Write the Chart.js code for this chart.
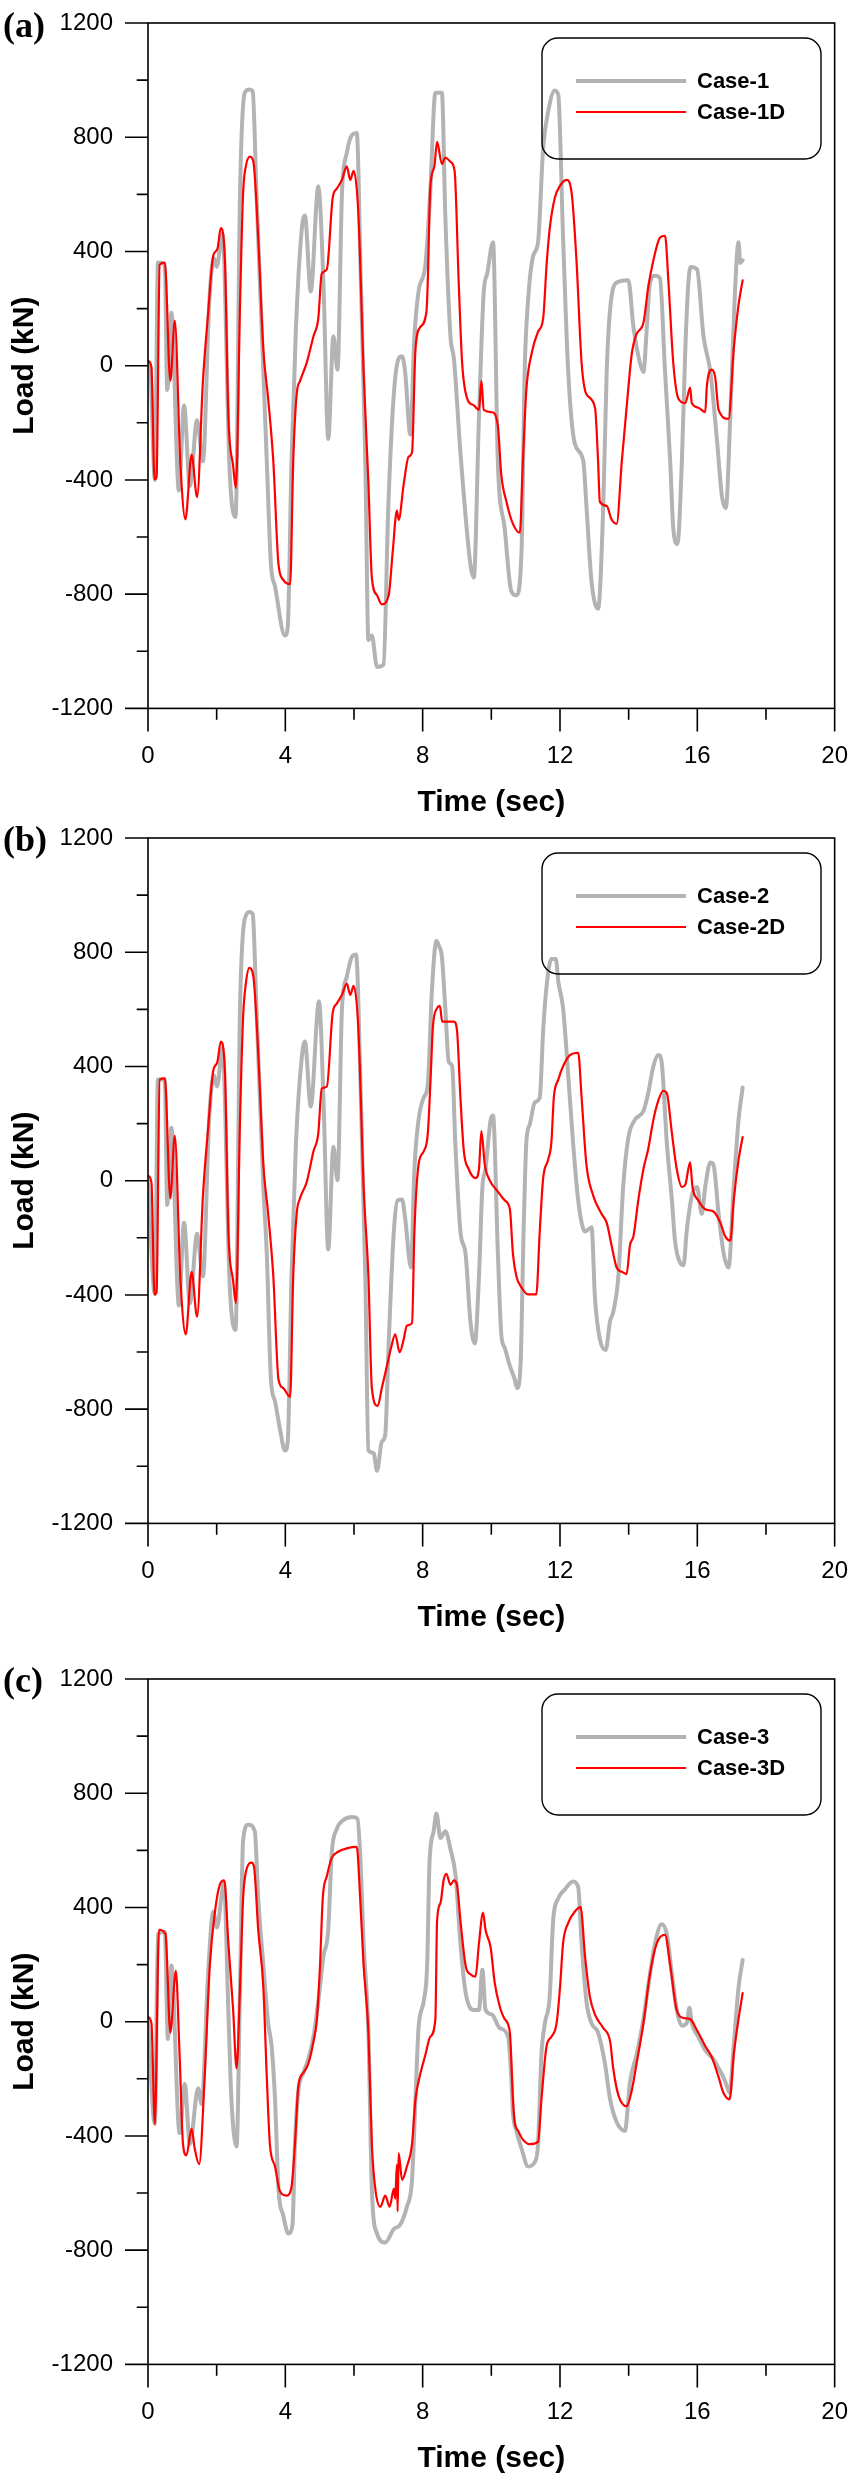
<!DOCTYPE html>
<html>
<head>
<meta charset="utf-8">
<script src="https://cdn.jsdelivr.net/npm/chart.js@4.4.1/dist/chart.umd.min.js"></script>
<style>
  body { margin: 0; background: #fff; width: 848px; height: 2482px; position: relative; overflow: hidden; }
  canvas { position: absolute; left: 0; }
  .tag { position: absolute; left: 3px; font: bold 36px "Liberation Serif", "Times New Roman", serif; line-height: 36px; color: #000; }
</style>
</head>
<body>
<canvas id="cA" width="848" height="826" style="top:0px"></canvas>
<canvas id="cB" width="848" height="826" style="top:815px"></canvas>
<canvas id="cC" width="848" height="826" style="top:1656px"></canvas>
<div class="tag" style="top:7px">(a)</div>
<div class="tag" style="top:821px">(b)</div>
<div class="tag" style="top:1662px">(c)</div>

<script>
// ---- datos (tiempo en s, carga en kN) ----
const case1T  = [0,0.05,0.2,0.29,0.49,0.56,0.68,0.9,1.05,1.22,1.43,1.6,1.78,1.92,2,2.17,2.38,2.55,2.68,2.82,2.95,3.05,3.16,3.36,3.46,3.58,3.7,3.99,4.07,4.18,4.31,4.48,4.57,4.74,4.96,5.11,5.25,5.4,5.52,5.65,5.79,5.94,6.08,6.2,6.33,6.42,6.52,6.67,6.86,7,7.16,7.3,7.4,7.49,7.64,7.76,7.88,8.08,8.22,8.37,8.56,8.66,8.81,8.91,9.1,9.39,9.49,9.64,9.78,9.88,10.05,10.19,10.39,10.58,10.73,10.88,10.97,11.07,11.22,11.36,11.51,11.65,11.85,11.95,12.09,12.24,12.43,12.68,12.77,12.92,13.11,13.26,13.36,13.46,13.65,13.99,14.14,14.33,14.43,14.53,14.62,14.77,14.91,15.06,15.21,15.3,15.42,15.55,15.65,15.74,15.81,15.99,16.18,16.38,16.57,16.72,16.83,16.96,17.08,17.2,17.25,17.32];
const case1V  = [0,10,-400,361,355,-85,185,-437,-139,-421,-191,-335,213,377,346,463,-374,-530,604,956,967,960,604,-22,-335,-695,-773,-945,-914,-335,135,479,526,260,628,291,-257,103,-14,604,745,808,815,291,-335,-961,-945,-1055,-1047,-491,-100,25,33,-22,-241,103,260,354,604,956,956,526,103,25,-304,-695,-742,-178,260,322,432,-335,-570,-789,-804,-648,-22,228,385,432,761,886,964,948,448,-22,-272,-335,-491,-757,-851,-491,-22,197,291,299,135,9,-22,135,291,315,307,-22,-335,-570,-624,-335,56,291,346,338,103,-22,-257,-460,-499,-178,213,432,360,369];

const case1dT = [0,0.1,0.19,0.25,0.34,0.49,0.65,0.78,0.94,1.09,1.27,1.43,1.6,1.75,1.9,2.02,2.12,2.24,2.34,2.48,2.56,2.68,2.77,2.85,2.97,3.07,3.21,3.36,3.5,3.65,3.8,3.94,4.14,4.23,4.33,4.43,4.62,4.82,4.96,5.06,5.21,5.38,5.5,5.65,5.79,5.89,5.99,6.13,6.28,6.42,6.52,6.67,6.81,7.01,7.13,7.25,7.3,7.45,7.59,7.69,7.79,7.93,8.11,8.15,8.22,8.34,8.42,8.56,8.66,8.81,8.93,9.05,9.15,9.3,9.49,9.64,9.71,9.78,10.02,10.19,10.29,10.44,10.63,10.83,10.92,11.02,11.17,11.36,11.51,11.61,11.7,11.85,11.99,12.19,12.34,12.48,12.63,12.77,13.02,13.11,13.16,13.36,13.5,13.65,13.8,13.94,14.09,14.23,14.43,14.57,14.72,14.91,15.06,15.16,15.3,15.45,15.65,15.79,15.84,16.03,16.23,16.28,16.42,16.52,16.62,16.91,17.06,17.2,17.32];
const case1dV = [17,-6,-398,-390,354,361,-53,158,-335,-538,-311,-460,-53,182,385,408,482,369,-178,-351,-429,213,604,698,732,714,448,56,-116,-335,-695,-750,-765,-335,-100,-53,9,103,166,322,338,588,620,651,698,651,682,526,-22,-413,-742,-804,-836,-804,-648,-507,-540,-413,-319,-304,56,135,189,300,620,698,784,706,729,714,682,291,9,-116,-139,-155,-53,-155,-163,-210,-382,-476,-554,-585,-335,-85,41,119,166,354,479,588,628,651,604,369,9,-100,-147,-335,-476,-491,-538,-554,-335,-147,41,111,150,275,369,448,455,291,9,-116,-131,-77,-131,-147,-163,-69,-14,-40,-155,-186,56,213,299];

const case2T  = [0,0.2,0.29,0.49,0.56,0.68,0.9,1.05,1.22,1.43,1.6,1.78,1.92,2.01,2.17,2.38,2.55,2.68,2.82,2.97,3.05,3.16,3.36,3.46,3.58,3.7,3.84,3.99,4.07,4.18,4.31,4.48,4.57,4.74,4.98,5.11,5.25,5.4,5.52,5.65,5.79,5.94,6.06,6.2,6.33,6.42,6.57,6.67,6.81,6.91,7.01,7.16,7.27,7.4,7.49,7.66,7.76,7.88,8.03,8.15,8.27,8.4,8.47,8.56,8.66,8.76,8.86,8.95,9.1,9.25,9.39,9.52,9.64,9.74,9.83,9.98,10.05,10.19,10.29,10.39,10.54,10.68,10.75,10.85,10.94,11.02,11.12,11.27,11.41,11.51,11.61,11.75,11.88,11.95,12.09,12.24,12.38,12.53,12.73,12.92,13.02,13.16,13.33,13.46,13.55,13.7,13.84,13.99,14.18,14.43,14.57,14.72,14.87,14.96,15.11,15.26,15.35,15.5,15.6,15.69,15.84,15.99,16.13,16.23,16.38,16.47,16.62,16.77,16.91,17.06,17.2,17.32];
const case2V  = [0,-398,354,354,-85,185,-437,-147,-429,-186,-335,213,369,330,463,-366,-523,604,917,941,933,604,-22,-257,-695,-773,-867,-945,-914,-335,135,432,487,260,628,291,-241,119,2,604,714,784,792,291,-335,-945,-953,-1016,-914,-890,-570,-178,-69,-66,-131,-304,41,213,291,338,667,839,823,784,604,416,401,135,-178,-257,-491,-570,-335,-22,41,213,228,-250,-538,-585,-648,-695,-726,-648,-178,135,197,275,291,526,682,776,776,698,604,369,135,-69,-178,-163,-413,-554,-593,-491,-460,-335,-22,150,213,244,307,401,440,416,135,-69,-210,-288,-296,-178,-53,-22,-116,-22,64,56,-116,-257,-304,-22,213,326];

const case2dT = [0,0.1,0.19,0.25,0.34,0.49,0.65,0.78,0.94,1.1,1.27,1.43,1.6,1.75,1.9,2.02,2.12,2.24,2.34,2.48,2.56,2.68,2.77,2.85,2.95,3.07,3.21,3.36,3.5,3.65,3.8,3.94,4.14,4.23,4.33,4.43,4.62,4.82,4.96,5.06,5.21,5.38,5.5,5.65,5.79,5.89,5.99,6.13,6.28,6.42,6.52,6.69,6.81,6.96,7.08,7.2,7.33,7.45,7.54,7.69,7.76,7.88,8.03,8.15,8.23,8.3,8.42,8.5,8.57,8.71,8.91,9,9.1,9.2,9.34,9.54,9.64,9.71,9.81,9.95,10.19,10.39,10.54,10.63,10.73,10.88,11.07,11.31,11.41,11.51,11.65,11.75,11.82,11.95,12.09,12.29,12.53,12.63,12.77,12.97,13.21,13.36,13.5,13.65,13.8,13.94,14.04,14.14,14.28,14.43,14.57,14.72,14.87,15.01,15.11,15.26,15.4,15.55,15.65,15.79,15.86,16.03,16.23,16.47,16.67,16.81,16.96,17.06,17.2,17.32];
const case2dV = [17,-6,-398,-390,354,358,-61,158,-335,-538,-319,-476,-53,182,385,415,487,385,-178,-351,-429,213,573,690,745,714,448,56,-116,-335,-695,-726,-757,-335,-116,-61,-6,103,166,322,330,588,620,651,690,651,682,526,-22,-335,-726,-789,-726,-648,-585,-538,-601,-554,-507,-499,-178,56,103,166,354,541,604,612,557,557,557,526,291,103,41,9,41,174,56,2,-38,-69,-100,-257,-335,-374,-398,-398,-178,9,72,135,291,354,401,440,448,291,56,-53,-116,-147,-225,-304,-319,-327,-225,-194,-69,41,111,213,283,315,307,166,41,-22,-14,64,-22,-69,-100,-108,-147,-194,-210,-69,72,153];

const case3T  = [0,0.2,0.29,0.49,0.58,0.68,0.92,1.07,1.22,1.46,1.56,1.75,1.9,2.01,2.14,2.21,2.34,2.43,2.58,2.68,2.77,2.92,3.11,3.21,3.36,3.5,3.6,3.7,3.8,3.94,4.09,4.21,4.28,4.38,4.53,4.67,4.82,4.96,5.11,5.25,5.35,5.5,5.69,5.94,6.1,6.18,6.28,6.42,6.52,6.67,6.91,7.16,7.35,7.54,7.69,7.79,7.88,8.03,8.13,8.2,8.32,8.4,8.52,8.66,8.81,8.96,9.1,9.25,9.49,9.64,9.74,9.83,10.02,10.24,10.49,10.58,10.63,10.73,10.88,11.07,11.27,11.36,11.46,11.56,11.7,11.8,11.95,12.14,12.38,12.53,12.63,12.77,12.92,13.11,13.31,13.46,13.65,13.89,14.04,14.23,14.43,14.62,14.77,14.96,15.11,15.26,15.4,15.55,15.69,15.77,15.84,16.03,16.23,16.47,16.62,16.76,16.86,16.94,17.06,17.2,17.32];
const case3V  = [0,-358,307,315,-61,197,-390,-218,-429,-233,-288,166,385,330,440,487,41,-272,-437,119,635,690,667,432,197,-6,-85,-272,-585,-679,-742,-710,-429,-241,-178,-131,-53,72,228,322,588,675,706,717,711,588,275,-38,-585,-742,-773,-726,-710,-648,-554,-272,-22,72,197,557,667,729,643,667,604,510,275,103,41,41,182,41,25,-22,-53,-194,-319,-382,-444,-507,-491,-429,-116,-6,88,354,432,463,491,471,275,72,-6,-38,-147,-272,-351,-382,-210,-116,9,166,275,341,307,166,41,-14,-6,49,-6,-53,-100,-131,-163,-194,-225,-249,-85,119,216];

const case3dT = [0,0.1,0.2,0.32,0.51,0.65,0.81,0.92,1.02,1.12,1.27,1.36,1.49,1.65,1.8,1.95,2.09,2.22,2.34,2.48,2.58,2.68,2.77,2.87,3.02,3.09,3.21,3.36,3.46,3.55,3.7,3.84,4.04,4.18,4.28,4.38,4.53,4.67,4.82,4.92,5.01,5.09,5.21,5.35,5.55,5.79,6.08,6.18,6.28,6.42,6.52,6.62,6.77,6.91,7.04,7.16,7.2,7.25,7.27,7.3,7.4,7.54,7.69,7.79,7.91,8.08,8.22,8.37,8.42,8.52,8.61,8.69,8.81,8.91,9,9.1,9.25,9.39,9.54,9.64,9.76,9.83,9.98,10.1,10.24,10.39,10.54,10.63,10.68,10.78,10.92,11.12,11.36,11.46,11.61,11.75,11.9,12,12.09,12.24,12.43,12.6,12.73,12.87,13.02,13.26,13.46,13.55,13.7,13.94,14.09,14.23,14.43,14.62,14.82,15.06,15.21,15.4,15.6,15.79,15.99,16.23,16.42,16.62,16.76,16.94,17.06,17.2,17.32];
const case3dV = [17,-6,-358,322,307,-38,178,-116,-429,-468,-374,-444,-499,-194,197,385,479,495,275,41,-163,119,432,534,557,541,322,119,-194,-429,-507,-593,-609,-577,-429,-225,-178,-147,-69,9,197,432,510,573,596,607,612,432,197,-38,-429,-585,-648,-609,-648,-585,-620,-500,-664,-460,-554,-507,-429,-272,-194,-116,-53,9,354,416,495,518,479,495,479,354,197,166,158,275,382,322,260,135,56,9,-38,-272,-351,-382,-413,-429,-421,-272,-85,-53,-6,119,275,346,385,401,228,88,25,-22,-69,-163,-257,-296,-241,-147,-6,166,275,304,197,41,13,9,-30,-85,-124,-194,-249,-272,-116,9,100];

const xTicks = { min: 0, max: 20, step: 2, labelEvery: 4 };
const yTicks = { min: -1200, max: 1200, step: 200, labelEvery: 400 };

const FAM = '"Liberation Sans", Arial, Helvetica, sans-serif';
const GRIS = "#b3b3b3";
const ROJO = "#ff0000";

const toXY = (t, v) => t.map((x, i) => ({ x: x, y: v[i] }));

// marco del grafico y marcas de eje (mayores / menores) hacia fuera
const marco = {
  id: "marco",
  afterDraw(chart) {
    const { ctx, chartArea: a, scales } = chart;
    ctx.save();
    ctx.strokeStyle = "#000";
    ctx.lineWidth = 1.6;
    ctx.strokeRect(a.left, a.top, a.right - a.left, a.bottom - a.top);
    ctx.beginPath();
    scales.y.ticks.forEach(t => {
      const py = scales.y.getPixelForValue(t.value);
      const len = t.value % yTicks.labelEvery === 0 ? 23 : 11.3;
      ctx.moveTo(a.left - len, py);
      ctx.lineTo(a.left, py);
    });
    scales.x.ticks.forEach(t => {
      const px = scales.x.getPixelForValue(t.value);
      const len = t.value % xTicks.labelEvery === 0 ? 23 : 11.3;
      ctx.moveTo(px, a.bottom);
      ctx.lineTo(px, a.bottom + len);
    });
    ctx.stroke();
    ctx.restore();
  }
};

// leyenda en caja redondeada
const leyenda = {
  id: "leyenda",
  afterDraw(chart) {
    const { ctx, chartArea: a } = chart;
    const x = 542, y = a.top + 15, w = 279, h = 121, r = 16;
    ctx.save();
    ctx.beginPath();
    ctx.moveTo(x + r, y);
    ctx.arcTo(x + w, y, x + w, y + h, r);
    ctx.arcTo(x + w, y + h, x, y + h, r);
    ctx.arcTo(x, y + h, x, y, r);
    ctx.arcTo(x, y, x + w, y, r);
    ctx.closePath();
    ctx.strokeStyle = "#000";
    ctx.lineWidth = 1.4;
    ctx.stroke();
    ctx.font = "bold 22px " + FAM;
    ctx.textBaseline = "middle";
    ctx.fillStyle = "#000";
    chart.data.datasets.forEach((ds, i) => {
      const ly = a.top + 58 + i * 31;
      ctx.beginPath();
      ctx.strokeStyle = ds.borderColor;
      ctx.lineWidth = ds.borderWidth;
      ctx.moveTo(576, ly);
      ctx.lineTo(686, ly);
      ctx.stroke();
      ctx.fillText(ds.label, 697, ly + 1);
    });
    ctx.restore();
  }
};

function grafico(id, lblG, tG, vG, lblR, tR, vR) {
  const tickFont = { family: FAM, size: 24 };
  const titleFont = { family: FAM, size: 30, weight: "bold" };
  // marcas de la libreria invisibles: solo reservan el hueco hasta las etiquetas
  const hueco = len => ({ display: true, drawOnChartArea: false, drawTicks: true, tickLength: len, tickColor: "rgba(0,0,0,0)" });
  return new Chart(document.getElementById(id), {
    type: "line",
    data: {
      datasets: [
        { label: lblG, data: toXY(tG, vG), borderColor: GRIS, borderWidth: 4, order: 1 },
        { label: lblR, data: toXY(tR, vR), borderColor: ROJO, borderWidth: 2.2, order: 0 }
      ]
    },
    options: {
      responsive: false,
      animation: false,
      parsing: false,
      elements: {
        point: { radius: 0 },
        line: { cubicInterpolationMode: "monotone", borderJoinStyle: "round", borderCapStyle: "round", fill: false }
      },
      layout: { padding: { top: 23, right: 13, left: 0, bottom: 0 } },
      plugins: { legend: { display: false }, tooltip: { enabled: false }, title: { display: false } },
      scales: {
        x: {
          type: "linear", min: xTicks.min, max: xTicks.max,
          afterFit: s => { s.height = 117.6; },
          grid: hueco(34),
          border: { display: false },
          ticks: {
            stepSize: xTicks.step, autoSkip: false, maxRotation: 0, padding: 0,
            color: "#000", font: tickFont,
            callback: v => v % xTicks.labelEvery === 0 ? String(v) : ""
          },
          title: { display: true, text: "Time (sec)", color: "#000", font: titleFont, padding: { top: 0, bottom: 5 } }
        },
        y: {
          type: "linear", min: yTicks.min, max: yTicks.max,
          afterFit: s => { s.width = 148; },
          grid: hueco(35),
          border: { display: false },
          ticks: {
            stepSize: yTicks.step, autoSkip: false, padding: 0,
            color: "#000", font: tickFont,
            callback: v => v % yTicks.labelEvery === 0 ? String(v) : ""
          },
          title: { display: true, text: "Load (kN)", color: "#000", font: titleFont, padding: { top: 7, bottom: 0 } }
        }
      }
    },
    plugins: [marco, leyenda]
  });
}

grafico("cA", "Case-1", case1T, case1V, "Case-1D", case1dT, case1dV);
grafico("cB", "Case-2", case2T, case2V, "Case-2D", case2dT, case2dV);
grafico("cC", "Case-3", case3T, case3V, "Case-3D", case3dT, case3dV);
</script>
</body>
</html>
